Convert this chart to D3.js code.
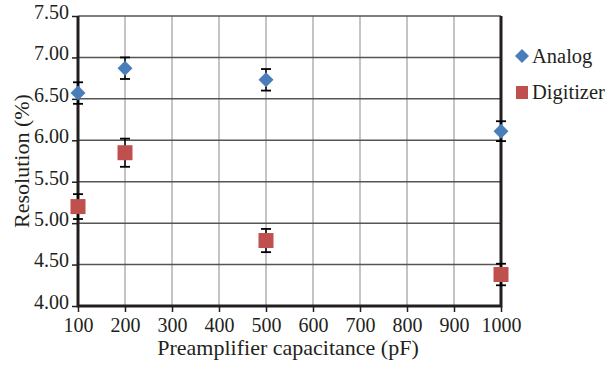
<!DOCTYPE html>
<html>
<head>
<meta charset="utf-8">
<script src="https://cdn.jsdelivr.net/npm/d3@7"></script>
<style>
  body { margin: 0; background: #fff; }
</style>
</head>
<body>
<svg id="chart" width="608" height="372"></svg>
<script>
const capacitance = [100, 200, 500, 1000];
const analog = [6.57, 6.87, 6.73, 6.11];
const analogErr = [0.13, 0.13, 0.13, 0.12];
const digitizer = [5.20, 5.85, 4.79, 4.38];
const digitizerErr = [0.15, 0.17, 0.14, 0.13];
const xTicks = [100, 200, 300, 400, 500, 600, 700, 800, 900, 1000];
const yTicks = [4.00, 4.50, 5.00, 5.50, 6.00, 6.50, 7.00, 7.50];

const FONT = "'Liberation Serif', 'Times New Roman', serif";
const INK = "#231f20";
const plotLeft = 78, plotRight = 501, plotTop = 16, plotBottom = 306;
const svg = d3.select("#chart");

const x = d3.scaleLinear().domain([100, 1000]).range([plotLeft, plotRight]);
const y = d3.scaleLinear().domain([4, 7.5]).range([plotBottom, plotTop]);

// vertical grid (light)
svg.append("g")
  .selectAll("line")
  .data(xTicks.slice(1, -1))
  .join("line")
  .attr("x1", d => x(d)).attr("x2", d => x(d))
  .attr("y1", plotTop).attr("y2", plotBottom)
  .style("stroke", "#b0b0b0")
  .style("stroke-width", 1.5);

// horizontal grid (dark)
svg.append("g")
  .selectAll("line")
  .data(yTicks.slice(1))
  .join("line")
  .attr("x1", plotLeft).attr("x2", plotRight)
  .attr("y1", d => y(d)).attr("y2", d => y(d))
  .style("stroke", "#555")
  .style("stroke-width", 1.5);

// axes
const xAxis = svg.append("g")
  .attr("transform", "translate(0," + plotBottom + ")")
  .call(d3.axisBottom(x).tickValues(xTicks).tickSize(6).tickPadding(6).tickFormat(d3.format("d")));
const yAxis = svg.append("g")
  .attr("transform", "translate(" + plotLeft + ",0)")
  .call(d3.axisLeft(y).tickValues(yTicks).tickSize(6).tickPadding(3).tickFormat(d3.format(".2f")));
[xAxis, yAxis].forEach(g => {
  g.attr("font-family", null).attr("font-size", null);
  g.select(".domain").remove();
  g.selectAll(".tick line").style("stroke", INK).style("stroke-width", 1.5);
  g.selectAll(".tick text")
    .style("font-family", FONT)
    .style("font-size", "20px")
    .style("fill", INK);
});
yAxis.selectAll(".tick text").attr("dy", "0.12em");

// frame: left, bottom, right axis lines
svg.append("path")
  .attr("d", `M${plotLeft},${plotTop}V${plotBottom}H${plotRight}V${plotTop}`)
  .style("fill", "none")
  .style("stroke", INK)
  .style("stroke-width", 3);

// error bars
function errorBars(vals, errs) {
  const g = svg.append("g");
  vals.forEach((v, i) => {
    const cx = x(capacitance[i]);
    const y1 = y(v + errs[i]), y2 = y(v - errs[i]);
    g.append("line").attr("x1", cx).attr("x2", cx).attr("y1", y1).attr("y2", y2)
      .style("stroke", "#000").style("stroke-width", 1.5);
    [y1, y2].forEach(yy => g.append("line")
      .attr("x1", cx - 5).attr("x2", cx + 5).attr("y1", yy).attr("y2", yy)
      .style("stroke", "#000").style("stroke-width", 1.8));
  });
}
errorBars(analog, analogErr);
errorBars(digitizer, digitizerErr);

const diamond = d3.symbol().type(d3.symbolSquare).size(112);
svg.append("g")
  .selectAll("path")
  .data(analog)
  .join("path")
  .attr("d", diamond)
  .attr("transform", (d, i) => `translate(${x(capacitance[i])},${y(d)}) rotate(45)`)
  .style("fill", "#4a7ebb");

svg.append("g")
  .selectAll("rect")
  .data(digitizer)
  .join("rect")
  .attr("x", (d, i) => x(capacitance[i]) - 7.5)
  .attr("y", d => y(d) - 7.5)
  .attr("width", 15).attr("height", 15)
  .style("fill", "#c0504d");

// legend
const legend = svg.append("g")
  .style("font-family", FONT)
  .style("font-size", "20.5px")
  .style("fill", INK);
legend.append("path")
  .attr("d", d3.symbol().type(d3.symbolSquare).size(98))
  .attr("transform", "translate(522,56) rotate(45)")
  .style("fill", "#4a7ebb");
legend.append("text").attr("x", 532).attr("y", 63).text("Analog");
legend.append("rect").attr("x", 516).attr("y", 86).attr("width", 12).attr("height", 13)
  .style("fill", "#c0504d");
legend.append("text").attr("x", 532).attr("y", 99).text("Digitizer");

// axis titles
svg.append("text")
  .attr("x", 288).attr("y", 355)
  .attr("text-anchor", "middle")
  .style("font-family", FONT)
  .style("font-size", "22px")
  .style("fill", INK)
  .text("Preamplifier capacitance (pF)");
svg.append("text")
  .attr("transform", "translate(29,161) rotate(-90)")
  .attr("text-anchor", "middle")
  .style("font-family", FONT)
  .style("font-size", "22px")
  .style("fill", INK)
  .text("Resolution (%)");
</script>
</body>
</html>
